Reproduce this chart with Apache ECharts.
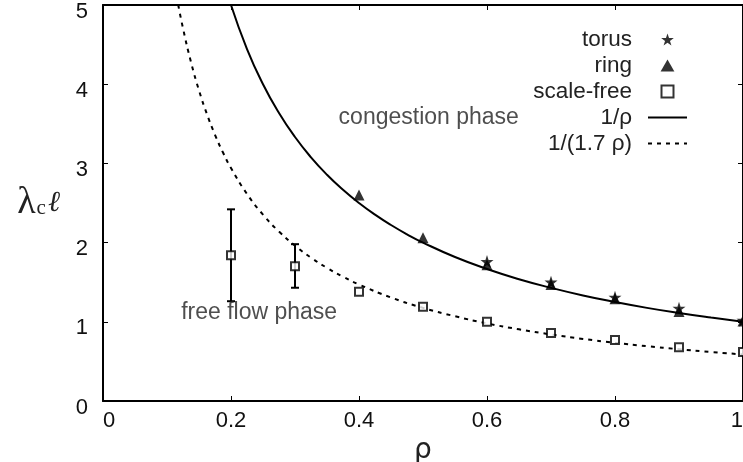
<!DOCTYPE html>
<html>
<head>
<meta charset="utf-8">
<script src="https://cdn.jsdelivr.net/npm/echarts@6/dist/echarts.min.js"></script>
<style>html,body{margin:0;padding:0;background:#fff}#c{width:743px;height:462px}</style>
</head>
<body>
<div id="c"></div>
<script>
// ---- data ----
const torusRho = [0.6, 0.7, 0.8, 0.9, 1.0];
const torusVal = [1.76, 1.50, 1.31, 1.17, 1.02];
const ringRho = [0.4, 0.5, 0.6, 0.7, 0.8, 0.9, 1.0];
const ringVal = [2.60, 2.06, 1.72, 1.47, 1.29, 1.13, 1.01];
const sfRho = [0.2, 0.3, 0.4, 0.5, 0.6, 0.7, 0.8, 0.9, 1.0];
const sfVal = [1.84, 1.70, 1.38, 1.19, 1.00, 0.86, 0.77, 0.68, 0.62];
const sfErrRho = [0.2, 0.3];
const sfErrLow = [1.26, 1.43];
const sfErrHigh = [2.42, 1.98];
// curve labelled 1/rho, as drawn
const invRho = [0.2, 0.225, 0.25, 0.275, 0.3, 0.325, 0.35, 0.375, 0.4, 0.425, 0.45, 0.475, 0.5, 0.55, 0.6, 0.65, 0.7, 0.75, 0.8, 0.85, 0.9, 0.95, 1.0];
const invVal = [5.0, 4.444, 4.0, 3.636, 3.333, 3.077, 2.857, 2.667, 2.5, 2.353, 2.222, 2.105, 2.0, 1.818, 1.667, 1.538, 1.429, 1.333, 1.25, 1.176, 1.111, 1.053, 1.0];
// curve labelled 1/(1.7 rho), as drawn
const inv17Rho = [0.1176, 0.125, 0.1375, 0.15, 0.1625, 0.175, 0.1875, 0.2, 0.225, 0.25, 0.275, 0.3, 0.325, 0.35, 0.375, 0.4, 0.45, 0.5, 0.55, 0.6, 0.65, 0.7, 0.75, 0.8, 0.85, 0.9, 0.95, 1.0];
const inv17Val = [5.0, 4.706, 4.278, 3.922, 3.620, 3.361, 3.137, 2.941, 2.614, 2.353, 2.139, 1.961, 1.810, 1.681, 1.569, 1.471, 1.307, 1.176, 1.070, 0.980, 0.905, 0.840, 0.784, 0.735, 0.692, 0.654, 0.619, 0.588];
const xTicks = [0, 0.2, 0.4, 0.6, 0.8, 1];
const yTicks = [0, 1, 2, 3, 4, 5];
const legendNames = ['torus', 'ring', 'scale-free', '1/ρ', '1/(1.7 ρ)'];
const annotations = [
  { text: 'congestion phase', rho: 0.509, val: 3.58 },
  { text: 'free flow phase', rho: 0.244, val: 1.11 }
];

const zip = (a, b) => a.map((v, i) => [v, b[i]]);
const starPath = 'path://M50,0 L61.8,35.1 L99,35.1 L69.1,57.3 L80.3,92.7 L50,71 L19.7,92.7 L30.9,57.3 L1,35.1 L38.2,35.1 Z';
const triPath = 'path://M50,0 L100,87 L0,87 Z';
const sqPath = 'path://M0,0 L100,0 L100,100 L0,100 Z';
const FONT = 'Liberation Sans';

const chart = echarts.init(document.getElementById('c'), null, { renderer: 'canvas' });

const fmtX = v => (Math.abs(v) < 1e-9 ? '0' : (Math.abs(v - 1) < 1e-9 ? '1' : String(+v.toFixed(1))));
const tickStyle = { show: true, inside: true, length: 5, lineStyle: { color: '#000', width: 1 } };

const option = {
  animation: false,
  backgroundColor: '#fff',
  grid: { left: 103, right: 0, top: 5, bottom: 61, containLabel: false, outerBoundsMode: 'none' },
  xAxis: [{
    type: 'value', min: xTicks[0], max: xTicks[xTicks.length - 1], interval: 0.2,
    name: 'ρ', nameLocation: 'middle', nameGap: 15,
    nameTextStyle: { fontFamily: 'DejaVu Sans', fontSize: 28, color: '#222' },
    axisLine: { show: true, lineStyle: { color: '#000', width: 2 } },
    axisTick: tickStyle,
    axisLabel: { fontFamily: FONT, fontSize: 22, color: '#111', margin: 9, formatter: fmtX,
                 alignMinLabel: 'left', alignMaxLabel: 'right' },
    splitLine: { show: false }
  }, {
    type: 'value', position: 'top', min: 0, max: 1, interval: 0.2,
    axisLine: { show: true, onZero: false, lineStyle: { color: '#000', width: 2 } },
    axisTick: tickStyle, axisLabel: { show: false }, splitLine: { show: false }
  }],
  yAxis: [{
    type: 'value', min: yTicks[0], max: yTicks[yTicks.length - 1], interval: 1,
    name: '{l|λ}{c|c}{e|ℓ}', nameLocation: 'middle', nameRotate: 0, nameGap: 43,
    nameTextStyle: {
      color: '#222',
      rich: {
        l: { fontFamily: 'Liberation Serif', fontSize: 38, color: '#222' },
        c: { fontFamily: 'Liberation Serif', fontSize: 21, color: '#222', padding: [10, 2, 0, 1] },
        e: { fontFamily: 'DejaVu Serif', fontStyle: 'italic', fontSize: 29, color: '#222' }
      }
    },
    axisLine: { show: true, lineStyle: { color: '#000', width: 2 } },
    axisTick: tickStyle,
    axisLabel: {
      margin: 15, formatter: v => '{a|' + v + '}',
      rich: { a: { fontFamily: FONT, fontSize: 22, color: '#111', padding: [13, 0, 0, 0] } }
    },
    splitLine: { show: false }
  }, {
    type: 'value', position: 'right', min: 0, max: 5, interval: 1,
    axisLine: { show: true, onZero: false, lineStyle: { color: '#000', width: 2 } },
    axisTick: tickStyle, axisLabel: { show: false }, splitLine: { show: false }
  }],
  legend: {
    orient: 'vertical', align: 'right', right: 55, top: 28, padding: 0,
    itemWidth: 39, itemHeight: 12, itemGap: 3,
    textStyle: { fontFamily: FONT, fontSize: 22.5, color: '#222', padding: [0, 11, 0, 0], lineHeight: 22 },
    data: legendNames.map((n, i) => (i >= 3 ? { name: n, itemStyle: { opacity: 0 } } : { name: n }))
  },
  series: [
    {
      name: legendNames[3], type: 'line', data: zip(invRho, invVal), smooth: 0.5,
      symbol: 'none', lineStyle: { color: '#000', width: 2 }, itemStyle: { color: '#000' }, z: 2
    },
    {
      name: legendNames[4], type: 'line', data: zip(inv17Rho, inv17Val), smooth: 0.5,
      symbol: 'none', lineStyle: { color: '#000', width: 2, type: [4, 5] }, itemStyle: { color: '#000' }, z: 2
    },
    {
      name: 'scale-free-err', type: 'custom', z: 3,
      data: sfErrRho.map((r, i) => [r, sfErrLow[i], sfErrHigh[i]]),
      renderItem: function (params, api) {
        const lo = api.coord([api.value(0), api.value(1)]);
        const hi = api.coord([api.value(0), api.value(2)]);
        const w = 4;
        const st = { stroke: '#000', lineWidth: 2 };
        return {
          type: 'group', children: [
            { type: 'line', shape: { x1: lo[0], y1: lo[1], x2: hi[0], y2: hi[1] }, style: st },
            { type: 'line', shape: { x1: lo[0] - w, y1: lo[1], x2: lo[0] + w, y2: lo[1] }, style: st },
            { type: 'line', shape: { x1: hi[0] - w, y1: hi[1], x2: hi[0] + w, y2: hi[1] }, style: st }
          ]
        };
      }
    },
    {
      name: legendNames[1], type: 'scatter', data: zip(ringRho, ringVal), symbol: triPath, symbolSize: 11,
      itemStyle: { color: '#000' }, z: 4
    },
    {
      name: legendNames[0], type: 'scatter', data: zip(torusRho, torusVal), symbol: starPath, symbolSize: 13,
      itemStyle: { color: '#000' }, z: 5
    },
    {
      name: legendNames[2], type: 'scatter', data: zip(sfRho, sfVal), symbol: sqPath, symbolSize: 8,
      itemStyle: { color: '#fff', borderColor: '#000', borderWidth: 2 }, z: 6
    },
    {
      name: 'annotations', type: 'scatter', silent: true, symbolSize: 0, z: 7,
      data: annotations.map(a => ({ value: [a.rho, a.val], name: a.text })),
      label: { show: true, position: 'inside', formatter: p => p.name,
               fontFamily: FONT, fontSize: 23, color: '#222' }
    }
  ]
};
chart.setOption(option);
</script>
</body>
</html>
